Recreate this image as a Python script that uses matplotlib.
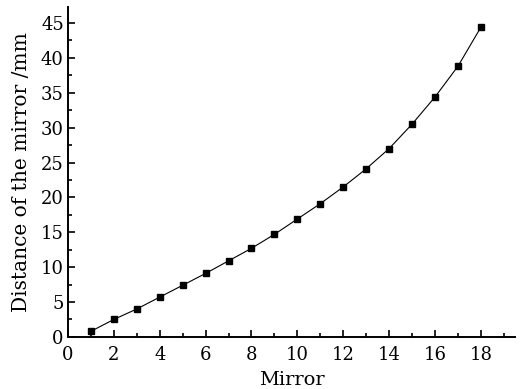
import matplotlib.pyplot as plt
from matplotlib.ticker import MultipleLocator

mirror = [1, 2, 3, 4, 5, 6, 7, 8, 9, 10, 11, 12, 13, 14, 15, 16, 17, 18]
distance = [0.8, 2.5, 4.0, 5.7, 7.4, 9.1, 10.9, 12.7, 14.7, 16.9,
            19.1, 21.5, 24.1, 27.0, 30.5, 34.4, 38.8, 44.4]

plt.rcParams['font.family'] = 'DejaVu Serif'
plt.rcParams['font.size'] = 13

fig = plt.figure(figsize=(5.25, 3.89), dpi=100)
ax = fig.add_axes([0.1295, 0.134, 0.852, 0.848])

ax.plot(mirror, distance, color='black', lw=0.8, marker='s', ms=5,
        mfc='black', mec='black')

ax.set_xlim(0, 19.5)
ax.set_ylim(0, 47.3)
ax.xaxis.set_major_locator(MultipleLocator(2))
ax.xaxis.set_minor_locator(MultipleLocator(1))
ax.yaxis.set_major_locator(MultipleLocator(5))
ax.yaxis.set_minor_locator(MultipleLocator(2.5))
ax.tick_params(which='both', direction='in', width=1.2)
ax.tick_params(which='major', length=5)
ax.tick_params(which='minor', length=3)
ax.tick_params(axis='x', which='major', pad=6.5)
ax.tick_params(axis='y', which='major', pad=3)

for side in ['top', 'right']:
    ax.spines[side].set_visible(False)
for side in ['left', 'bottom']:
    ax.spines[side].set_linewidth(1.4)

ax.set_xlabel('Mirror', fontsize=14, labelpad=5)
ax.set_ylabel('Distance of the mirror /mm', fontsize=14.5, labelpad=7)

fig.savefig('out.png', dpi=100)
